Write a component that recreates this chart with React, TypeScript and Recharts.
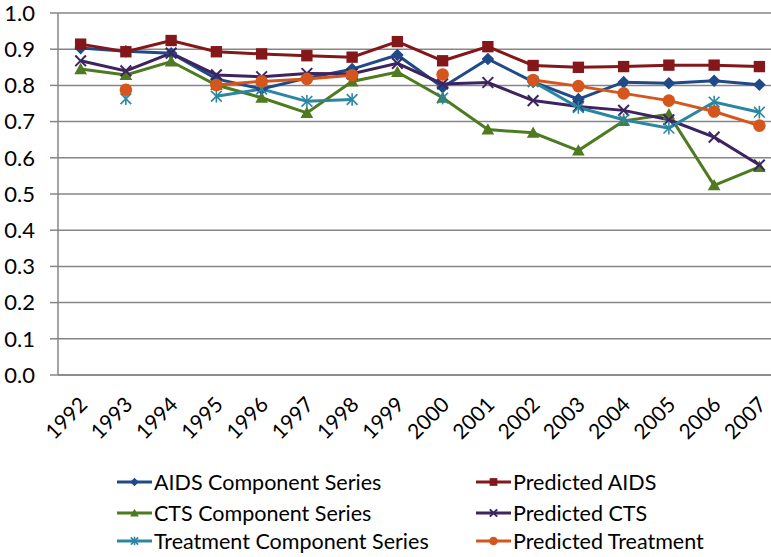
import { LineChart, Line, XAxis, YAxis, CartesianGrid, Legend } from 'recharts';

const years = ['1992', '1993', '1994', '1995', '1996', '1997', '1998', '1999', '2000', '2001', '2002', '2003', '2004', '2005', '2006', '2007'];
const yTicks = [0, 0.1, 0.2, 0.3, 0.4, 0.5, 0.6, 0.7, 0.8, 0.9, 1.0];

const aidsComponent = [0.903, 0.894, 0.889, 0.818, 0.79, 0.82, 0.845, 0.884, 0.795, 0.873, 0.81, 0.762, 0.809, 0.806, 0.813, 0.802];
const predictedAids = [0.914, 0.893, 0.924, 0.893, 0.887, 0.882, 0.878, 0.921, 0.868, 0.907, 0.855, 0.85, 0.852, 0.856, 0.856, 0.852];
const ctsComponent = [0.845, 0.829, 0.866, 0.801, 0.766, 0.724, 0.811, 0.837, 0.766, 0.678, 0.669, 0.62, 0.702, 0.72, 0.524, 0.575];
const predictedCts = [0.868, 0.84, 0.889, 0.829, 0.824, 0.833, 0.832, 0.861, 0.804, 0.808, 0.758, 0.742, 0.731, 0.705, 0.657, 0.58];
const treatmentComponent = [null, 0.763, null, 0.77, 0.79, 0.756, 0.761, null, 0.765, null, 0.81, 0.739, 0.705, 0.682, 0.754, 0.726];
const predictedTreatment = [null, 0.788, null, 0.801, 0.811, 0.818, 0.828, null, 0.83, null, 0.815, 0.798, 0.778, 0.758, 0.728, 0.689];

const chartData = years.map((year, i) => ({
  idx: i,
  year,
  aidsComponent: aidsComponent[i],
  predictedAids: predictedAids[i],
  ctsComponent: ctsComponent[i],
  predictedCts: predictedCts[i],
  treatmentComponent: treatmentComponent[i],
  predictedTreatment: predictedTreatment[i],
}));

const labelTicks = years.map((_, i) => i);
const boundaryTicks = years.map((_, i) => i - 0.5);

type Shape = 'diamond' | 'square' | 'triangle' | 'cross' | 'star' | 'circle';

const seriesList: { key: string; name: string; color: string; shape: Shape }[] = [
  { key: 'aidsComponent', name: 'AIDS Component Series', color: '#1F4A87', shape: 'diamond' },
  { key: 'predictedAids', name: 'Predicted AIDS', color: '#841719', shape: 'square' },
  { key: 'ctsComponent', name: 'CTS Component Series', color: '#4E7A20', shape: 'triangle' },
  { key: 'predictedCts', name: 'Predicted CTS', color: '#3D2461', shape: 'cross' },
  { key: 'treatmentComponent', name: 'Treatment Component Series', color: '#2C86A2', shape: 'star' },
  { key: 'predictedTreatment', name: 'Predicted Treatment', color: '#D5561C', shape: 'circle' },
];

const FONT = 'Lato, "Open Sans", sans-serif';

function marker(shape: Shape, cx: number, cy: number, color: string, s: number) {
  switch (shape) {
    case 'diamond':
      return <polygon points={`${cx},${cy - s} ${cx + s},${cy} ${cx},${cy + s} ${cx - s},${cy}`} fill={color} />;
    case 'square':
      return <rect x={cx - s * 0.9} y={cy - s * 0.9} width={s * 1.8} height={s * 1.8} fill={color} />;
    case 'triangle':
      return <polygon points={`${cx},${cy - s} ${cx + s},${cy + s * 0.8} ${cx - s},${cy + s * 0.8}`} fill={color} />;
    case 'cross':
      return (
        <g stroke={color} strokeWidth={2}>
          <line x1={cx - s * 0.85} y1={cy - s * 0.85} x2={cx + s * 0.85} y2={cy + s * 0.85} />
          <line x1={cx - s * 0.85} y1={cy + s * 0.85} x2={cx + s * 0.85} y2={cy - s * 0.85} />
        </g>
      );
    case 'star':
      return (
        <g stroke={color} strokeWidth={1.6}>
          <line x1={cx - s * 0.85} y1={cy - s * 0.85} x2={cx + s * 0.85} y2={cy + s * 0.85} />
          <line x1={cx - s * 0.85} y1={cy + s * 0.85} x2={cx + s * 0.85} y2={cy - s * 0.85} />
          <line x1={cx} y1={cy - s} x2={cx} y2={cy + s} />
        </g>
      );
    default:
      return <circle cx={cx} cy={cy} r={s} fill={color} />;
  }
}

const makeDot = (shape: Shape, color: string) => (props: any) => {
  const { cx, cy, index, value } = props;
  if (value == null || cx == null || cy == null) return <g key={`e-${index}`} />;
  return <g key={`d-${index}`}>{marker(shape, cx, cy, color, 6.3)}</g>;
};

const YearTick = (props: any) => {
  const { x, y, payload } = props;
  const px = x + 8;
  const py = y + 23;
  return (
    <text x={px} y={py} transform={`rotate(-45 ${px} ${py})`} textAnchor="end" fontSize={21} fontFamily={FONT} fill="#000">
      {years[payload.value]}
    </text>
  );
};

const legendCols = [117, 476];
const legendRows = [25, 56, 84];

const LegendContent = () => (
  <div style={{ position: 'relative', width: 771, height: 100, fontFamily: FONT, fontSize: 21.5, color: '#000' }}>
    {seriesList.map((s, i) => {
      const left = legendCols[i % 2];
      const top = legendRows[Math.floor(i / 2)];
      return (
        <div key={s.key} style={{ position: 'absolute', left, top: top - 15, height: 30, display: 'flex', alignItems: 'center', whiteSpace: 'nowrap' }}>
          <svg width={37} height={30} style={{ display: 'block' }}>
            <line x1={0} y1={15} x2={35} y2={15} stroke={s.color} strokeWidth={3} />
            {marker(s.shape, 17.5, 15, s.color, 4.3)}
          </svg>
          <span style={{ lineHeight: '30px' }}>{s.name}</span>
        </div>
      );
    })}
  </div>
);

export default function App() {
  return (
    <div style={{ position: 'absolute', left: 0, top: 0, width: 771, height: 557, overflow: 'hidden', background: '#fff' }}>
      <LineChart width={800} height={557} data={chartData} margin={{ top: 13, right: 18, bottom: 0, left: 0 }}>
        <CartesianGrid vertical={false} stroke="#868686" strokeWidth={1.5} xAxisId="labels" />
        <XAxis
          xAxisId="bounds"
          type="number"
          dataKey="idx"
          domain={[-0.5, 15.5]}
          ticks={boundaryTicks}
          interval={0}
          tick={false}
          tickSize={8}
          height={8}
          stroke="#868686"
          strokeWidth={1.5}
        />
        <XAxis
          xAxisId="labels"
          type="number"
          dataKey="idx"
          domain={[-0.5, 15.5]}
          ticks={labelTicks}
          interval={0}
          tickLine={false}
          axisLine={false}
          tickSize={0}
          tickMargin={0}
          height={74}
          tick={<YearTick />}
        />
        <YAxis
          domain={[0, 1]}
          ticks={yTicks}
          interval={0}
          tickFormatter={(v: number) => v.toFixed(1)}
          width={58}
          tickSize={8}
          tickMargin={15}
          stroke="#868686"
          strokeWidth={1.5}
          tick={{ fill: '#000', fontSize: 22, fontFamily: FONT }}
        />
        <Legend verticalAlign="bottom" height={100} content={<LegendContent />} wrapperStyle={{ left: 0, width: 771 }} />
        {seriesList.map((s) => (
          <Line
            key={s.key}
            xAxisId="labels"
            dataKey={s.key}
            name={s.name}
            stroke={s.color}
            strokeWidth={3}
            dot={makeDot(s.shape, s.color)}
            activeDot={false}
            isAnimationActive={false}
          />
        ))}
      </LineChart>
    </div>
  );
}
